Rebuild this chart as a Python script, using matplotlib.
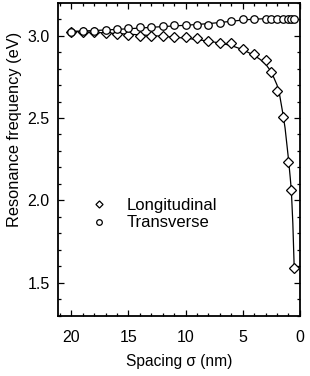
import matplotlib
matplotlib.use("Agg")
import matplotlib.pyplot as plt
from matplotlib.ticker import MultipleLocator

plt.rcParams['font.family'] = ['Liberation Sans', 'DejaVu Sans']

# Measured points
spacing = [20, 19, 18, 17, 16, 15, 14, 13, 12, 11, 10, 9, 8, 7, 6, 5, 4, 3,
           2.5, 2, 1.5, 1, 0.75, 0.5]
longitudinal = [3.024, 3.024, 3.021, 3.016, 3.011, 3.002, 3.0, 2.998, 2.995,
                2.991, 2.99, 2.988, 2.968, 2.953, 2.953, 2.921, 2.89, 2.852,
                2.782, 2.667, 2.507, 2.236, 2.065, 1.588]
transverse = [3.025, 3.029, 3.03, 3.035, 3.039, 3.046, 3.051, 3.055, 3.059,
              3.063, 3.062, 3.066, 3.066, 3.075, 3.089, 3.103, 3.104, 3.104,
              3.104, 3.104, 3.104, 3.104, 3.104, 3.104]

# Fit curves
fit_long_x = [20, 18, 16, 14, 12, 10, 8, 7, 6, 5, 4, 3.5, 3, 2.5, 2, 1.8,
              1.5, 1.3, 1.0, 0.85, 0.75, 0.62, 0.5]
fit_long_y = [3.025, 3.02, 3.013, 3.005, 2.996, 2.985, 2.967, 2.955, 2.94,
              2.915, 2.88, 2.857, 2.827, 2.78, 2.7, 2.65, 2.53, 2.44, 2.25,
              2.14, 2.06, 1.86, 1.59]
fit_tran_x = [20, 18, 16, 14, 12, 10, 8, 6, 5, 4, 3, 2, 1, 0.3]
fit_tran_y = [3.026, 3.031, 3.038, 3.046, 3.055, 3.063, 3.073, 3.087, 3.095,
              3.1, 3.103, 3.104, 3.105, 3.105]

fig = plt.figure(figsize=(3.1, 3.76), dpi=100)
ax = fig.add_axes([0.1855, 0.1604, 0.782, 0.8324])

ax.plot(fit_long_x, fit_long_y, color='black', lw=0.9)
ax.plot(fit_tran_x, fit_tran_y, color='black', lw=0.9)
ax.plot(spacing, longitudinal, linestyle='none', marker='D', ms=4.8,
        mfc='white', mec='black', mew=0.9, label='Longitudinal')
ax.plot(spacing, transverse, linestyle='none', marker='o', ms=5.4,
        mfc='white', mec='black', mew=0.9, label='Transverse')

ax.set_xlim(21.2, 0)
ax.set_ylim(1.3, 3.2)
ax.xaxis.set_major_locator(MultipleLocator(5))
ax.xaxis.set_minor_locator(MultipleLocator(1))
ax.yaxis.set_minor_locator(MultipleLocator(0.1))
ax.set_yticks([1.5, 2.0, 2.5, 3.0])
ax.set_yticklabels(['1.5', '2.0', '2.5', '3.0'])

ax.tick_params(which='both', direction='in', top=True, right=True,
               labelsize=11.5, width=0.9)
ax.tick_params(which='major', length=4)
ax.tick_params(which='minor', length=2.2)
ax.tick_params(axis='x', pad=10)
ax.tick_params(axis='y', pad=5.5)
for s in ax.spines.values():
    s.set_linewidth(1.3)

ax.set_xlabel('Spacing σ (nm)', fontsize=11.2)
ax.xaxis.set_label_coords(0.5, -0.123)
ax.set_ylabel('Resonance frequency (eV)', fontsize=11.8)
ax.yaxis.set_label_coords(-0.147, 0.596)

ax.legend(loc='upper left', bbox_to_anchor=(0.07, 0.424), frameon=False,
          fontsize=12, markerscale=0.75, handlelength=1.2, handletextpad=1.05,
          labelspacing=0.15)

fig.savefig('out.png', dpi=100)
